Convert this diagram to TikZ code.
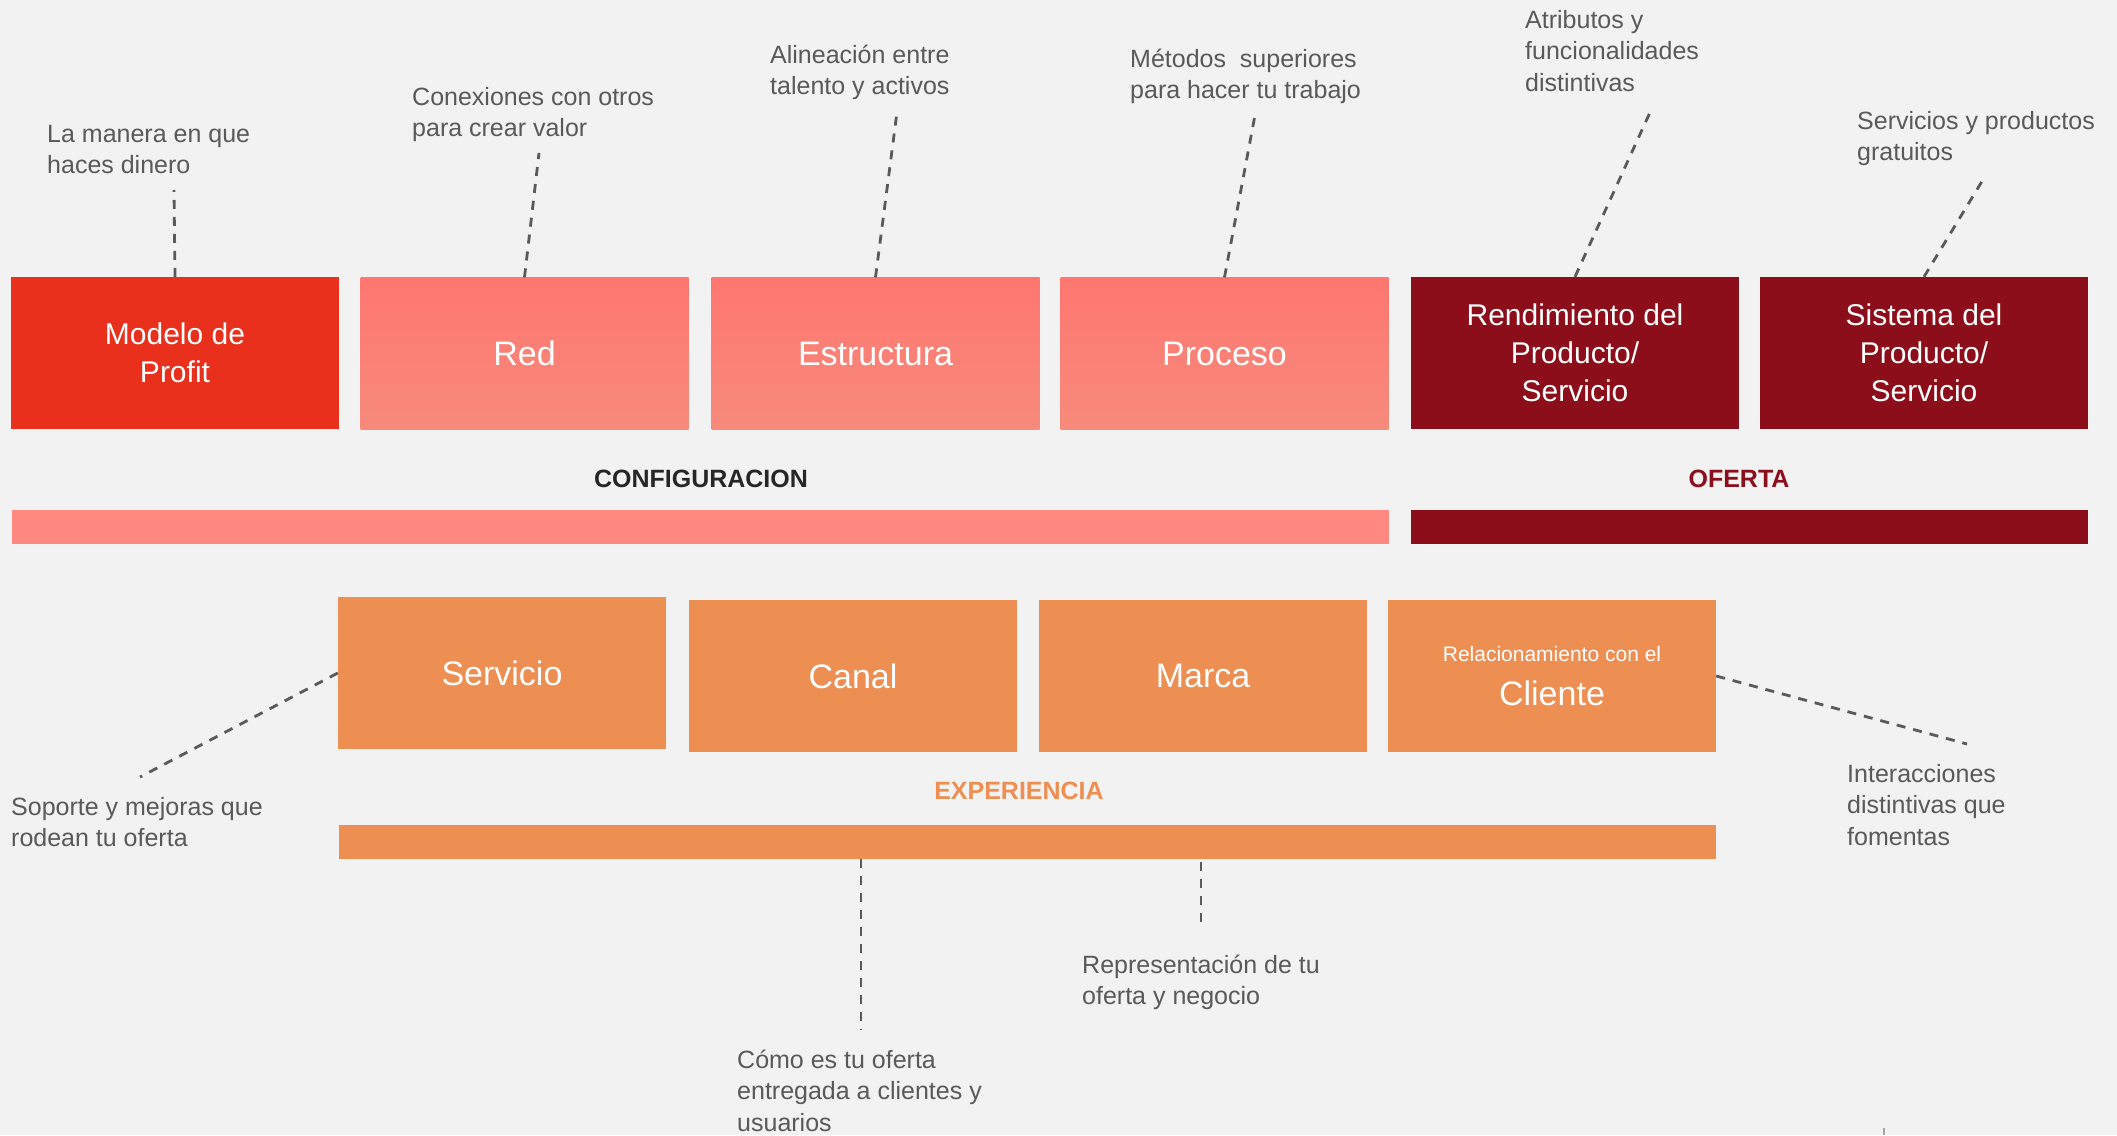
\documentclass[tikz,border=0pt]{standalone}
\usepackage{fontspec}
\setmainfont{Liberation Sans}
\usetikzlibrary{calc}
\definecolor{bg}{HTML}{F2F2F2}
\definecolor{labelgray}{HTML}{595959}
\definecolor{linegray}{HTML}{5A5A5A}
\definecolor{modelo}{HTML}{E8301C}
\definecolor{pinktop}{HTML}{FF7770}
\definecolor{pinkbot}{HTML}{F68A7B}
\definecolor{pinkbar}{HTML}{FF8880}
\definecolor{darkred}{HTML}{8C0E1A}
\definecolor{orangebox}{HTML}{ED8F52}
\definecolor{secgray}{HTML}{262626}
\tikzset{
  box/.style={minimum width=328pt, minimum height=152pt, inner sep=0pt, text=white, align=center, font=\fontsize{30}{38}\selectfont},
  bigtxt/.style={font=\fontsize{34}{40}\selectfont},
  pinkshade/.style={top color=pinktop, bottom color=pinkbot},
  lbl/.style={text=labelgray, align=left, inner sep=0pt, anchor=base west, font=\fontsize{25}{31.5}\selectfont},
  conn/.style={draw=linegray, line width=2.8pt, dash pattern=on 9pt off 8pt},
  bar/.style={minimum height=34pt, inner sep=0pt},
  sec/.style={inner sep=0pt, font=\bfseries\fontsize{25}{30}\selectfont}
}
\begin{document}
\begin{tikzpicture}[x=1pt,y=-1pt]
\fill[bg] (0,0) rectangle (2117,1135);
\useasboundingbox (0,0) rectangle (2117,1135);

% top row
\node[box, fill=modelo] (profit) at (175,353) {Modelo de\\Profit};
\node[box, pinkshade, bigtxt] (red) at (524.5,353.5) {Red};
\node[box, pinkshade, bigtxt] (estructura) at (875.5,353.5) {Estructura};
\node[box, pinkshade, bigtxt] (proceso) at (1224.5,353.5) {Proceso};
\node[box, fill=darkred] (rendimiento) at (1575,353) {Rendimiento del\\Producto/\\Servicio};
\node[box, fill=darkred] (sistema) at (1924,353) {Sistema del\\Producto/\\Servicio};

% top labels (anchored at the baseline of the last line)
\node[lbl] (l1) at (47,173.5) {La manera en que\\haces dinero};
\node[lbl] (l2) at (412,136.5) {Conexiones con otros\\para crear valor};
\node[lbl] (l3) at (770,94.5) {Alineación entre\\talento y activos};
\node[lbl] (l4) at (1130,98.5) {Métodos\ \ superiores\\para hacer tu trabajo};
\node[lbl] (l5) at (1525,91) {Atributos y\\funcionalidades\\distintivas};
\node[lbl] (l6) at (1857,160.5) {Servicios y productos\\gratuitos};

\coordinate (c1) at (174,190);
\coordinate (c2) at (539,153);
\coordinate (c3) at (897,112);
\coordinate (c4) at (1255,115);
\coordinate (c5) at (1652,108);
\coordinate (c6) at (1984,178);
\draw[conn] (profit.north) -- (c1);
\draw[conn] (red.north) -- (c2);
\draw[conn] (estructura.north) -- (c3);
\draw[conn] (proceso.north) -- (c4);
\draw[conn] (rendimiento.north) -- (c5);
\draw[conn] (sistema.north) -- (c6);

% section labels and bars
\node[sec, text=secgray] (conf) at (701,479) {CONFIGURACION};
\node[sec, text=darkred] (oferta) at (1739,479) {OFERTA};
\node[bar, fill=pinkbar, minimum width=1377pt] (confbar) at (700.5,527) {};
\node[bar, fill=darkred, minimum width=677pt] (ofbar) at (1749.5,527) {};

% bottom row
\node[box, fill=orangebox, bigtxt] (servicio) at (502,673) {Servicio};
\node[box, fill=orangebox, bigtxt] (canal) at (853,676) {Canal};
\node[box, fill=orangebox, bigtxt] (marca) at (1203,676) {Marca};
\node[box, fill=orangebox] (cliente) at (1552,676) {{\fontsize{21}{24}\selectfont Relacionamiento con el}\\[6pt]{\fontsize{34}{36}\selectfont Cliente}};

\node[sec, text=orangebox] (exp) at (1019,791) {EXPERIENCIA};
\node[bar, fill=orangebox, minimum width=1377pt] (expbar) at (1027.5,842) {};

% bottom labels (anchored at the baseline of the last line)
\node[lbl] (l7) at (11,846.5) {Soporte y mejoras que\\rodean tu oferta};
\node[lbl] (l8) at (1847,845) {Interacciones\\distintivas que\\fomentas};
\node[lbl] (l9) at (737,1131) {Cómo es tu oferta\\entregada a clientes y\\usuarios};
\node[lbl] (l10) at (1082,1004.5) {Representación de tu\\oferta y negocio};

\coordinate (c7) at (140,777);
\coordinate (c8) at (1967,744);
\coordinate (c9) at (861,1030);
\coordinate (c10) at (1201,925);
\draw[conn] (servicio.west) -- (c7);
\draw[conn] (cliente.east) -- (c8);
\draw[conn] (expbar.south -| c9) -- (c9);
\draw[conn] ($(expbar.south -| c10)+(0,3)$) -- (c10);

\draw[gray!70, line width=1.5pt] (1884,1128) -- (1884,1135);
\end{tikzpicture}
\end{document}
